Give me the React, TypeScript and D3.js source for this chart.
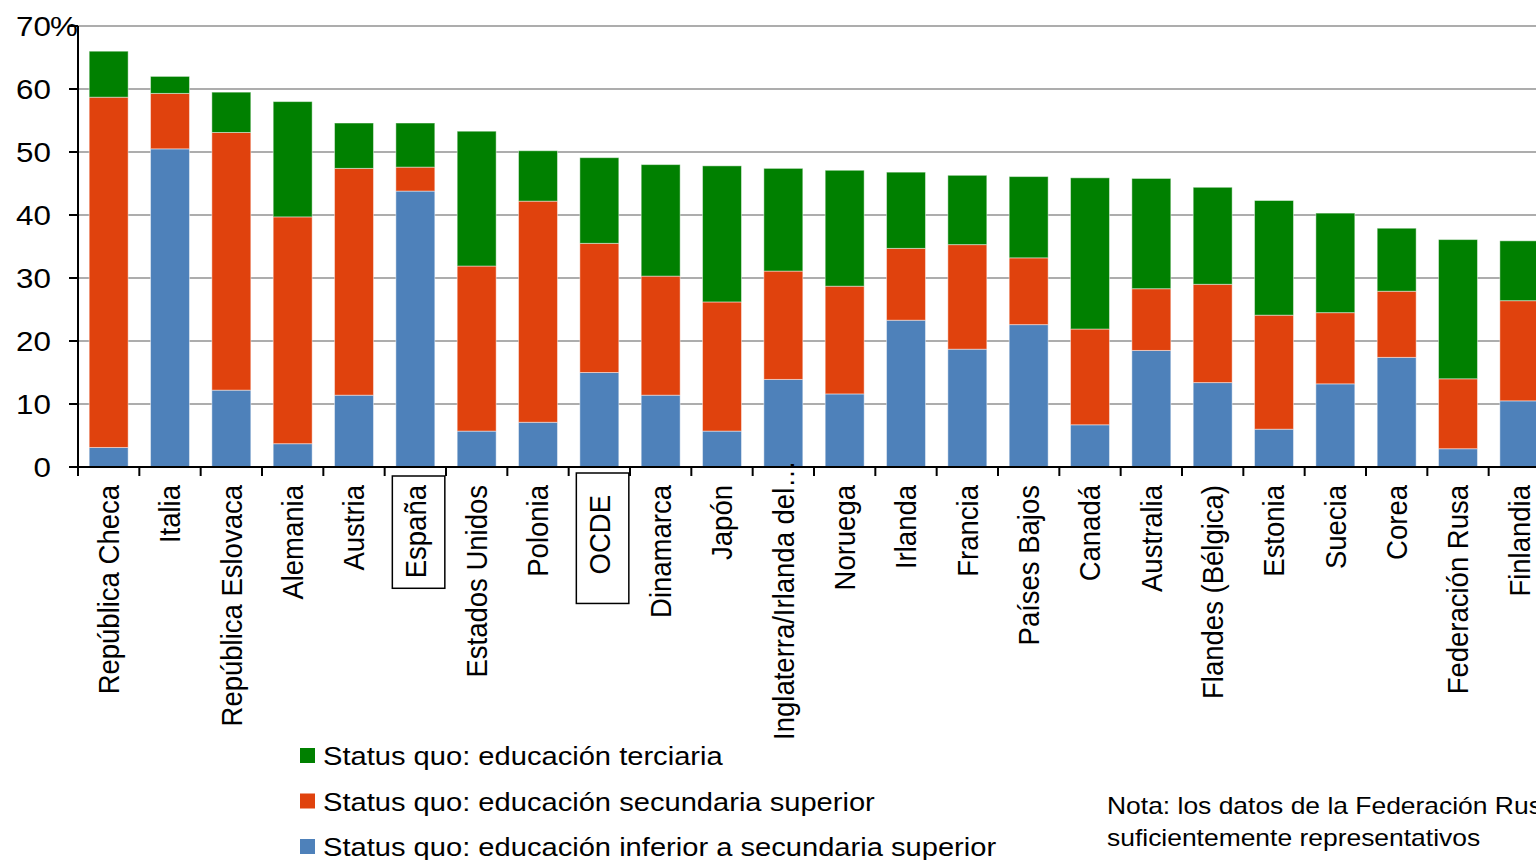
import React, { useEffect, useRef } from "react";
import * as d3 from "d3";

const categories = [
  "República Checa", "Italia", "República Eslovaca", "Alemania", "Austria", "España",
  "Estados Unidos", "Polonia", "OCDE", "Dinamarca", "Japón", "Inglaterra/Irlanda del…",
  "Noruega", "Irlanda", "Francia", "Países Bajos", "Canadá", "Australia",
  "Flandes (Bélgica)", "Estonia", "Suecia", "Corea", "Federación Rusa", "Finlandia",
];

// percentages per segment, bottom to top
const inferior = [3.1, 50.5, 12.2, 3.7, 11.4, 43.8, 5.7, 7.1, 15.0, 11.4, 5.7, 13.9, 11.6, 23.3, 18.7, 22.6, 6.7, 18.5, 13.4, 6.0, 13.2, 17.4, 2.9, 10.5];
const secundaria = [55.6, 8.8, 40.9, 36.0, 36.0, 3.8, 26.2, 35.1, 20.5, 18.9, 20.5, 17.2, 17.1, 11.4, 16.6, 10.6, 15.2, 9.8, 15.6, 18.1, 11.3, 10.5, 11.1, 15.9];
const terciaria = [7.3, 2.7, 6.4, 18.3, 7.2, 7.0, 21.4, 8.0, 13.6, 17.7, 21.6, 16.3, 18.4, 12.1, 11.0, 12.9, 24.0, 17.5, 15.4, 18.2, 15.8, 10.0, 22.1, 9.5];

const yTicks = [0, 10, 20, 30, 40, 50, 60, 70];
const highlighted = ["España", "OCDE"];

const seriesKeys = ["inferior", "secundaria", "terciaria"];
const seriesColors: Record<string, string> = {
  inferior: "#4e81ba",
  secundaria: "#e0420d",
  terciaria: "#008000",
};
const legendItems = [
  { key: "terciaria", label: "Status quo: educación terciaria" },
  { key: "secundaria", label: "Status quo: educación secundaria superior" },
  { key: "inferior", label: "Status quo: educación inferior a secundaria superior" },
];
const noteLines = [
  "Nota: los datos de la Federación Rusa no son",
  "suficientemente representativos",
];

const W = 1536;
const H = 860;
const FONT = "'Liberation Sans', Arial, sans-serif";

const App: React.FC = () => {
  const svgRef = useRef<SVGSVGElement>(null);

  useEffect(() => {
    document.body.style.margin = "0";
    if (!svgRef.current) return;
    const svg = d3.select(svgRef.current);
    svg.selectAll("*").remove();

    const left = 78;
    const bottom = 467;

    const x = d3.scaleBand<string>()
      .domain(categories)
      .range([left, 1550])
      .paddingInner(0.365)
      .paddingOuter(0.1825);
    const step = x.step();

    const y = d3.scaleLinear().domain([0, 70]).range([bottom, 26]);

    const rows = categories.map((c, i) => ({
      name: c,
      inferior: inferior[i],
      secundaria: secundaria[i],
      terciaria: terciaria[i],
    }));
    const stacked = d3.stack<any>().keys(seriesKeys)(rows);

    // gridlines
    svg.append("g")
      .selectAll("line")
      .data(yTicks.filter(t => t > 0))
      .enter()
      .append("line")
      .attr("x1", left)
      .attr("x2", W)
      .attr("y1", d => y(d))
      .attr("y2", d => y(d))
      .attr("stroke", "#929292")
      .attr("stroke-width", 1.6);

    // bars
    svg.append("g")
      .selectAll("g")
      .data(stacked)
      .enter()
      .append("g")
      .attr("fill", d => seriesColors[d.key])
      .selectAll("rect")
      .data(d => d)
      .enter()
      .append("rect")
      .attr("x", d => x(d.data.name)!)
      .attr("width", x.bandwidth())
      .attr("y", d => y(d[1]))
      .attr("height", d => y(d[0]) - y(d[1]))
      .attr("stroke", "rgba(255,255,255,0.45)")
      .attr("stroke-width", 1);

    // axes
    const axis = svg.append("g").attr("stroke", "#000").attr("stroke-width", 2);
    axis.append("line").attr("x1", left).attr("x2", left).attr("y1", y(70)).attr("y2", bottom + 9);
    axis.append("line").attr("x1", left).attr("x2", W).attr("y1", bottom).attr("y2", bottom);
    axis.selectAll(".yt")
      .data(yTicks)
      .enter()
      .append("line")
      .attr("x1", left - 9)
      .attr("x2", left)
      .attr("y1", d => y(d))
      .attr("y2", d => y(d));
    axis.selectAll(".xt")
      .data(d3.range(categories.length + 1))
      .enter()
      .append("line")
      .attr("x1", i => left + i * step)
      .attr("x2", i => left + i * step)
      .attr("y1", bottom)
      .attr("y2", bottom + 9);

    // y labels
    const yl = svg.append("g").attr("font-family", FONT).attr("font-size", 28).attr("fill", "#000");
    yl.selectAll("text")
      .data(yTicks)
      .enter()
      .append("text")
      .attr("transform", d => `translate(51,${y(d)}) scale(1.12,1)`)
      .attr("text-anchor", "end")
      .attr("dy", "0.36em")
      .text(d => String(d));
    yl.append("text")
      .attr("transform", `translate(50,${y(70)}) scale(1.12,1)`)
      .attr("dy", "0.36em")
      .text("%");

    // x labels
    const xl = svg.append("g").attr("font-family", FONT).attr("font-size", 27.5).attr("fill", "#000");
    categories.forEach(c => {
      const cx = x(c)! + x.bandwidth() / 2;
      const t = xl.append("text")
        .attr("text-anchor", "end")
        .attr("dy", "0.36em")
        .text(c);
      const len = (t.node() as SVGTextElement).getComputedTextLength();
      let top = c === "OCDE" ? 495 : 485;
      if (len > 255) top = 740 - len;
      t.attr("transform", `translate(${cx},${top}) scale(1.05,1) rotate(-90)`);

      if (highlighted.includes(c)) {
        const padT = c === "OCDE" ? 22 : 9;
        const padB = c === "OCDE" ? 29 : 10;
        xl.append("rect")
          .attr("x", cx - 23)
          .attr("y", top - padT)
          .attr("width", 52.5)
          .attr("height", len + padT + padB)
          .attr("fill", "none")
          .attr("stroke", "#000")
          .attr("stroke-width", 1.5);
      }
    });

    // legend
    const lg = svg.append("g").attr("font-family", FONT).attr("font-size", 26).attr("fill", "#000");
    legendItems.forEach((item, i) => {
      const ty = 748 + i * 45.5;
      lg.append("rect")
        .attr("x", 300)
        .attr("y", ty)
        .attr("width", 15)
        .attr("height", 15)
        .attr("fill", seriesColors[item.key]);
      lg.append("text")
        .attr("transform", `translate(323,${ty + 17}) scale(1.12,1)`)
        .text(item.label);
    });

    // note
    const nt = svg.append("g").attr("font-family", FONT).attr("font-size", 23).attr("fill", "#000");
    noteLines.forEach((line, i) => {
      nt.append("text")
        .attr("transform", `translate(1107,${814 + i * 32}) scale(1.15,1)`)
        .text(line);
    });
  }, []);

  return (
    <svg
      ref={svgRef}
      width={W}
      height={H}
      style={{ display: "block", background: "#fff", overflow: "hidden" }}
    />
  );
};

export default App;
